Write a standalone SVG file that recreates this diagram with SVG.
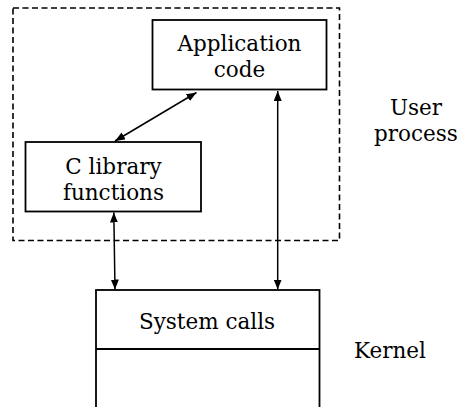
<svg xmlns="http://www.w3.org/2000/svg" width="457" height="407" viewBox="0 0 457 407">
  <style>
    .box { fill: #fff; stroke: #000; stroke-width: 1.8; }
    .frame { fill: none; stroke: #000; stroke-width: 1.6; stroke-dasharray: 6 3.5; }
    .link { fill: none; stroke: #000; stroke-width: 1.5; marker-start: url(#head); marker-end: url(#head); }
    text { font-family: "DejaVu Serif", "Liberation Serif", serif; font-size: 21.5px; fill: #000; text-anchor: middle; }
  </style>
  <defs>
    <marker id="head" viewBox="0 0 10 8" refX="10" refY="4" markerWidth="10" markerHeight="8" markerUnits="userSpaceOnUse" orient="auto-start-reverse">
      <path d="M0,0 L10,4 L0,8 Z" fill="#000"/>
    </marker>
  </defs>

  <rect width="457" height="407" fill="#fff"/>

  <!-- user process boundary -->
  <g id="user-process">
    <rect class="frame" x="13" y="8" width="326.5" height="232.5"/>
    <text x="416" y="115">User</text>
    <text x="416" y="141">process</text>
  </g>

  <g id="application-code">
    <rect class="box" x="152.5" y="20" width="174" height="69.5"/>
    <text x="239.5" y="50.5">Application</text>
    <text x="239.5" y="77">code</text>
  </g>

  <g id="c-library">
    <rect class="box" x="25.5" y="142" width="175.5" height="69.5"/>
    <text x="113.5" y="173.5">C library</text>
    <text x="113.5" y="199.5">functions</text>
  </g>

  <g id="kernel">
    <rect class="box" x="96" y="290" width="223.5" height="130"/>
    <line x1="96" y1="349" x2="319.5" y2="349" stroke="#000" stroke-width="1.8"/>
    <text x="207" y="328.5">System calls</text>
    <text x="390" y="357.5">Kernel</text>
  </g>

  <g id="connectors">
    <line class="link" x1="196.5" y1="92.5" x2="115" y2="141"/>
    <line class="link" x1="113.8" y1="212.5" x2="115" y2="289.5"/>
    <line class="link" x1="277.7" y1="91" x2="277.7" y2="289.5"/>
  </g>
</svg>
